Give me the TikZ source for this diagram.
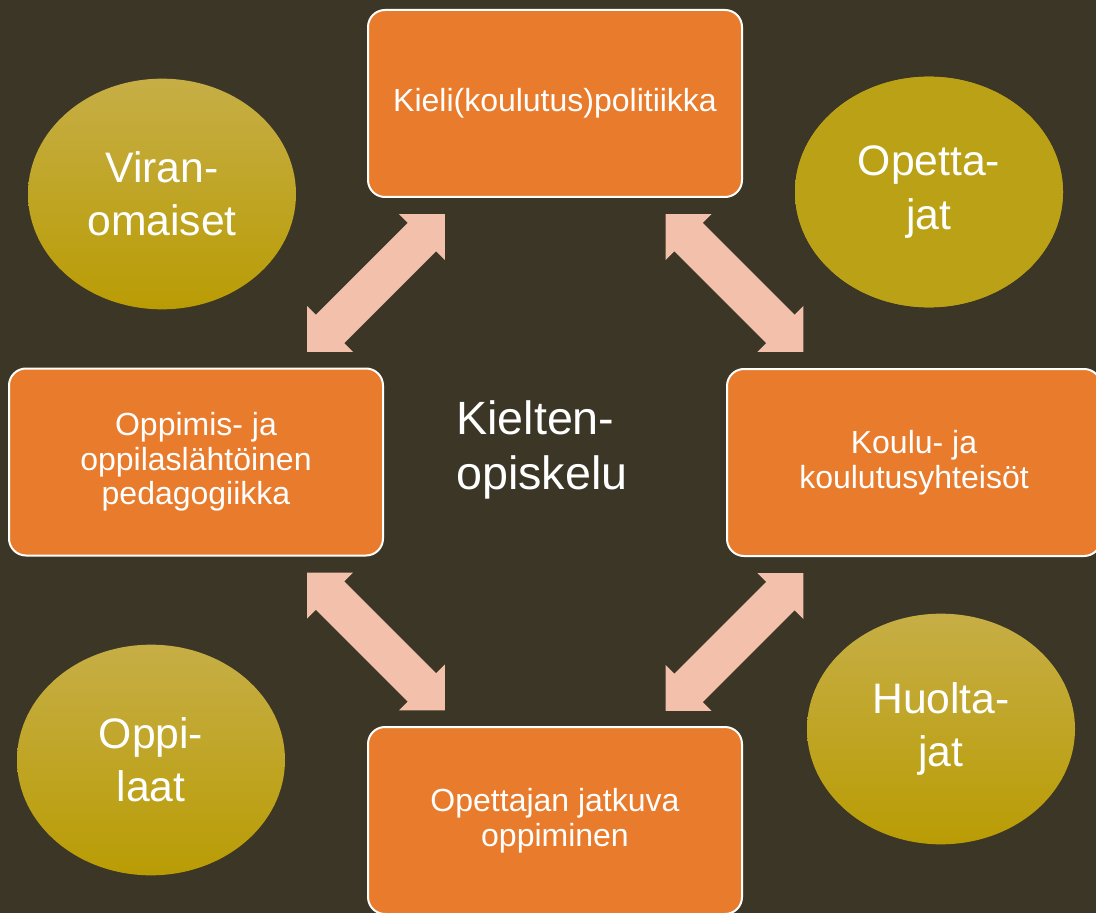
\documentclass[tikz,border=0pt]{standalone}
\usepackage{fontspec}
\setmainfont{Liberation Sans}
\usetikzlibrary{shapes.geometric}
\definecolor{bg}{HTML}{3B3626}
\definecolor{boxorange}{HTML}{E87B2C}
\definecolor{arrowpink}{HTML}{F2C0AB}
\definecolor{goldtop}{HTML}{C6AE46}
\definecolor{goldbot}{HTML}{B99C04}
\definecolor{goldflat}{HTML}{BBA116}
\begin{document}
\begin{tikzpicture}[x=0.75pt,y=-0.75pt,
  box/.style={draw=white, line width=1.5pt, fill=boxorange, rounded corners=12.75pt,
    minimum width=280.5pt, minimum height=140.25pt, text=white, align=center,
    font=\fontsize{24}{26}\selectfont, inner sep=0pt},
  oval/.style={ellipse, minimum width=201pt, minimum height=173pt, inner sep=0pt,
    text=white, align=center, font=\fontsize{32}{40}\selectfont,
    top color=goldtop, bottom color=goldbot, draw=none},
  ovalflat/.style={oval, fill=goldflat, top color=goldflat, bottom color=goldflat},
  fatarrow/.pic={\fill[arrowpink] (-97.5,0) -- (-65,32.5) -- (-65,20) -- (65,20)
    -- (65,32.5) -- (97.5,0) -- (65,-32.5) -- (65,-20) -- (-65,-20) -- (-65,-32.5) -- cycle;}
]
\fill[bg] (0,0) rectangle (1096,913);
\clip (0,0) rectangle (1096,913);

% ellipses
\node[oval] (viran) at (162,194) {Viran-\\omaiset};
\node[ovalflat] (opett) at (929,192) {Opetta-\\jat};
\node[oval] (oppil) at (151,760) {Oppi-\\laat};
\node[oval] (huolt) at (941,729) {Huolta-\\jat};

% boxes
\node[box] (politiikka) at (555,103.5) {Kieli(koulutus)politiikka};
\node[box] (pedagogiikka) at (196,462) {Oppimis- ja\\oppilaslähtöinen\\pedagogiikka};
\node[box] (yhteisot) at (914,462.5) {Koulu- ja\\koulutusyhteisöt};
\node[box] (oppiminen) at (555,820.5) {Opettajan jatkuva\\oppiminen};

% centre text
\node[anchor=west, inner sep=0pt, text=white, align=left,
  font=\fontsize{35}{41}\selectfont] (keskus) at (456,450) {Kielten-\\opiskelu};

% double arrows
\coordinate (arrTL) at (376,283);
\coordinate (arrTR) at (734.5,283);
\coordinate (arrBL) at (376,641.5);
\coordinate (arrBR) at (734.5,642);
\pic[rotate=45] at (arrTL) {fatarrow};
\pic[rotate=-45] at (arrTR) {fatarrow};
\pic[rotate=-45] at (arrBL) {fatarrow};
\pic[rotate=45] at (arrBR) {fatarrow};
\end{tikzpicture}
\end{document}
